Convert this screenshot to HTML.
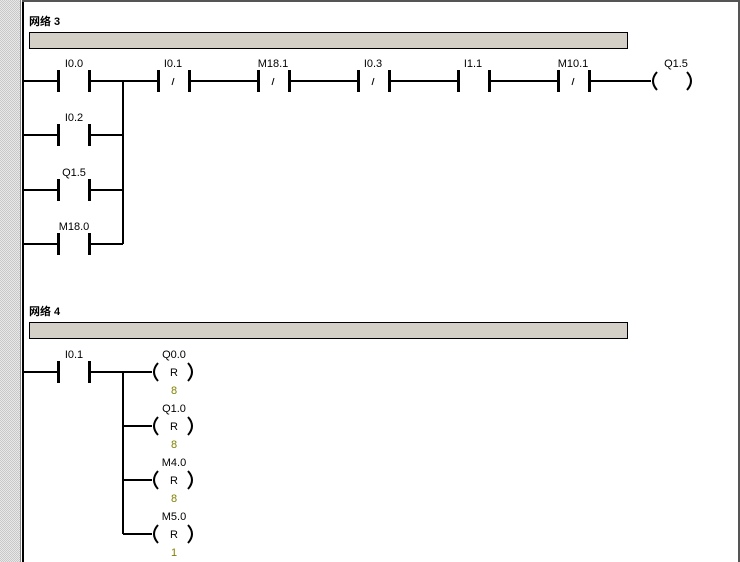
<!DOCTYPE html>
<html><head><style>
body{margin:0;background:#fff;}
svg{display:block;font-family:"Liberation Sans",sans-serif;}
</style></head><body>
<svg width="740" height="562" viewBox="0 0 740 562" xmlns="http://www.w3.org/2000/svg">
<defs><pattern id="h" width="2" height="2" patternUnits="userSpaceOnUse"><rect width="2" height="2" fill="#e8e8e8"/><rect width="1" height="1" fill="#c8c8c8"/><rect x="1" y="1" width="1" height="1" fill="#c8c8c8"/></pattern></defs>
<rect x="0" y="0" width="740" height="562" fill="#fff"/>
<rect x="0" y="0" width="20" height="562" fill="url(#h)"/>
<line x1="20.5" y1="0" x2="20.5" y2="562" stroke="#888"/>
<rect x="22" y="0" width="2" height="562" fill="#000"/>
<rect x="22" y="0" width="718" height="2" fill="#555"/>
<rect x="738" y="0" width="2" height="562" fill="#555"/>
<g font-size="11" font-weight="bold" font-family="'Liberation Sans','Noto Sans CJK SC',sans-serif">
<text x="29" y="25">网络 3</text>
<text x="29" y="315">网络 4</text>
</g>
<rect x="29.5" y="32.5" width="598" height="16" fill="#d4d0c8" stroke="#000"/>
<rect x="29.5" y="322.5" width="598" height="16" fill="#d4d0c8" stroke="#000"/>
<g stroke="#000" stroke-width="2" fill="none">
<path d="M24 81H58M89 81H158M189 81H258M289 81H358M389 81H458M489 81H558M589 81H651"/>
<path d="M24 135H58M89 135H123M24 190H58M89 190H123M24 244H58M89 244H123M123 81V244"/>
<g stroke-width="3">
<path d="M58.5 70V92M89.5 70V92M58.5 124V146M89.5 124V146M58.5 179V201M89.5 179V201M58.5 233V255M89.5 233V255"/>
<path d="M158.5 70V92M189.5 70V92M258.5 70V92M289.5 70V92M358.5 70V92M389.5 70V92M458.5 70V92M489.5 70V92M558.5 70V92M589.5 70V92"/>
</g>
<path d="M657 72Q649 81 657 90M687 72Q695 81 687 90"/>
<path d="M24 372H58M89 372H152M123 372V534M123 426H152M123 480H152M123 534H152"/>
<path d="M58.5 361V383M89.5 361V383" stroke-width="3"/>
<path d="M158 363Q150 372 158 381M188 363Q196 372 188 381M158 417Q150 426 158 435M188 417Q196 426 188 435M158 471Q150 480 158 489M188 471Q196 480 188 489M158 525Q150 534 158 543M188 525Q196 534 188 543"/>
</g>
<g stroke="#000" stroke-width="1">
<path d="M172 85L174 78M272 85L274 78M372 85L374 78M572 85L574 78"/>
</g>
<g font-size="11" text-anchor="middle" fill="#000">
<text x="74" y="67">I0.0</text><text x="74" y="121">I0.2</text><text x="74" y="176">Q1.5</text><text x="74" y="230">M18.0</text>
<text x="173" y="67">I0.1</text><text x="273" y="67">M18.1</text><text x="373" y="67">I0.3</text><text x="473" y="67">I1.1</text><text x="573" y="67">M10.1</text><text x="676" y="67">Q1.5</text>
<text x="74" y="358">I0.1</text>
<text x="174" y="358">Q0.0</text><text x="174" y="412">Q1.0</text><text x="174" y="466">M4.0</text><text x="174" y="520">M5.0</text>
<text x="174" y="376">R</text><text x="174" y="430">R</text><text x="174" y="484">R</text><text x="174" y="538">R</text>
</g>
<g font-size="11" text-anchor="middle" fill="#808000">
<text x="174" y="394">8</text><text x="174" y="448">8</text><text x="174" y="502">8</text><text x="174" y="556">1</text>
</g>
</svg>
</body></html>
